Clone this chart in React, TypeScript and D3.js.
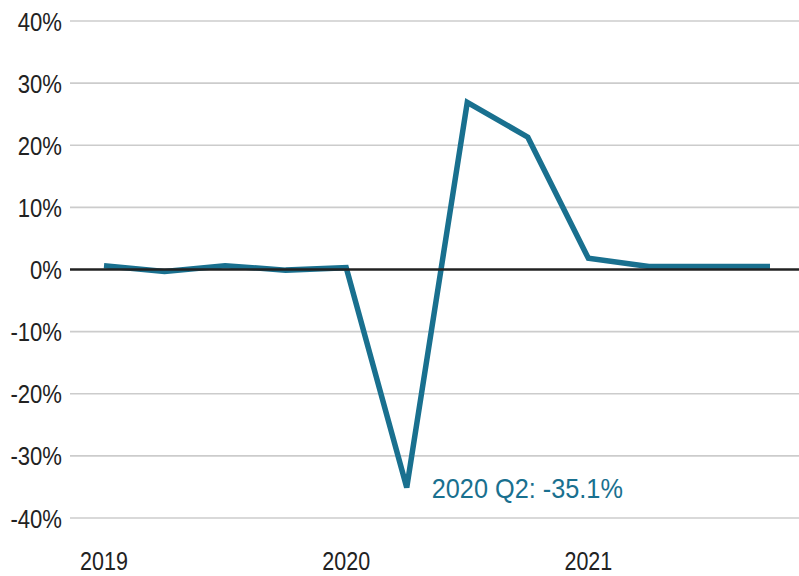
import React from 'react';
import { scaleLinear, line } from 'd3';

const quarters = ['2019 Q1', '2019 Q2', '2019 Q3', '2019 Q4', '2020 Q1', '2020 Q2', '2020 Q3', '2020 Q4', '2021 Q1', '2021 Q2', '2021 Q3', '2021 Q4'];
const growth = [0.6, -0.3, 0.6, -0.1, 0.3, -35.1, 26.9, 21.3, 1.8, 0.5, 0.5, 0.5];
const yTicks = [40, 30, 20, 10, 0, -10, -20, -30, -40];
const yearLabels = ['2019', '2020', '2021'];
const yearIndex = [0, 4, 8];

const LINE_COLOR = '#19708f';
const FONT = '"Liberation Sans", Arial, sans-serif';

const App = () => {
  const width = 799;
  const height = 576;

  const xScale = scaleLinear().domain([0, quarters.length - 1]).range([104, 770]);
  const yScale = scaleLinear().domain([-40, 40]).range([518, 21]);

  const myLine = line<number>()
    .x((_, i) => xScale(i))
    .y((d) => yScale(d));

  const troughIdx = growth.indexOf(Math.min(...growth));

  return (
    <svg width={width} height={height} style={{ position: 'absolute', left: 0, top: 0 }}>
      {/* grid + y labels */}
      {yTicks.map((t) => (
        <g key={t}>
          {t !== 0 && (
            <line x1={70} x2={width} y1={yScale(t)} y2={yScale(t)} stroke="#cccccc" strokeWidth={1.6} />
          )}
          <g transform={`translate(62, ${yScale(t) + 9.5}) scale(0.85, 1)`}>
            <text textAnchor="end" fontFamily={FONT} fontSize={26} fill="#222">
              {`${t}%`}
            </text>
          </g>
        </g>
      ))}

      {/* x labels */}
      {yearLabels.map((y, i) => (
        <g key={y} transform={`translate(${xScale(yearIndex[i])}, 570) scale(0.86, 1)`}>
          <text textAnchor="middle" fontFamily={FONT} fontSize={25} fill="#222">
            {y}
          </text>
        </g>
      ))}

      {/* series */}
      <path d={myLine(growth) || ''} fill="none" stroke={LINE_COLOR} strokeWidth={5.5} strokeLinejoin="miter" />

      {/* zero line */}
      <line x1={70} x2={width} y1={yScale(0)} y2={yScale(0)} stroke="#222" strokeWidth={2.6} />

      {/* annotation */}
      <g transform={`translate(${xScale(troughIdx) + 25}, 498) scale(0.92, 1)`}>
        <text fontFamily={FONT} fontSize={27.5} fill={LINE_COLOR}>
          {`${quarters[troughIdx]}: ${growth[troughIdx]}%`}
        </text>
      </g>
    </svg>
  );
};

export default App;
